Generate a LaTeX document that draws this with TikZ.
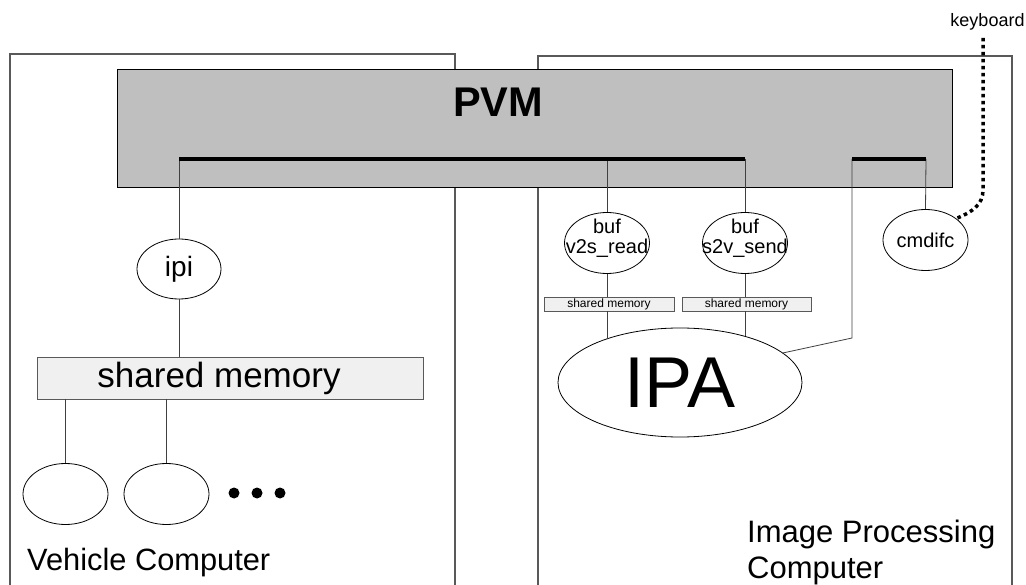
\documentclass[tikz,border=0pt]{standalone}
\usepackage{fontspec}
\setmainfont{Liberation Sans}
\usetikzlibrary{shapes.geometric}
\tikzset{
  comp/.style={draw=black!65, line width=1.1pt},
  link/.style={draw=black!75, line width=0.8pt},
  bus/.style={line width=3.3pt},
  proc/.style={draw, ellipse, line width=0.8pt, inner sep=0pt},
  shmbox/.style={draw=black!65, fill=black!6, line width=0.9pt, inner sep=0pt},
  buftext/.style={font=\fontsize{20}{20.5}\selectfont, align=center, inner sep=0pt, yshift=5pt},
  kbdline/.style={line width=3.5pt, dash pattern=on 3.5pt off 3.5pt},
}
\begin{document}
\begin{tikzpicture}[x=1pt,y=-1pt]
  \useasboundingbox (0,0) rectangle (1026,585);
  % 两台计算机
  \draw[comp] (10,590) -- (10,54) -- (455,54) -- (455,590);
  \draw[comp] (538,590) -- (538,56) -- (1012,56) -- (1012,590);
  % PVM
  \node[draw, fill=black!25, line width=0.9pt, minimum width=835pt, minimum height=118pt, inner sep=0pt] (pvm) at (534.5,128) {};
  \node[font=\bfseries\fontsize{41.5}{41.5}\selectfont, inner sep=0pt] (pvmname) at (498,102) {PVM};
  % 总线
  \coordinate (busA) at (179,159);
  \coordinate (busB) at (745,159);
  \coordinate (busC) at (852,159);
  \coordinate (busD) at (926,159);
  % Vehicle Computer
  \node[proc, minimum width=84pt, minimum height=60pt, font=\fontsize{28}{28}\selectfont] (ipi) at (179,269) {ipi};
  \node[shmbox, minimum width=386pt, minimum height=42pt,
        label={[font=\fontsize{35}{35}\selectfont, inner sep=0pt, xshift=-11pt]center:shared memory}] (shm) at (230,378) {};
  \node[proc, minimum width=85pt, minimum height=61pt] (task1) at (65.5,494) {};
  \node[proc, minimum width=85pt, minimum height=61pt] (task2) at (166.5,494) {};
  \foreach \x in {234,257,280}
    \fill (\x,493) circle (5.5);
  \node[anchor=base west, inner sep=0pt, font=\fontsize{30.8}{30.8}\selectfont] (vc) at (27,570) {Vehicle Computer};
  \draw[link] (busA) -- (ipi.north);
  \draw[link] (ipi.south) -- (ipi.south |- shm.north);
  \draw[link] (task1.north |- shm.south) -- (task1.north);
  \draw[link] (task2.north |- shm.south) -- (task2.north);
  % Image Processing Computer
  \node[proc, minimum width=85pt, minimum height=61pt, label={[buftext]center:buf\\v2s\_read}] (v2s) at (607,243) {};
  \node[proc, minimum width=85pt, minimum height=61pt, label={[buftext]center:buf\\s2v\_send}] (s2v) at (745,243) {};
  \node[proc, minimum width=85pt, minimum height=61pt, font=\fontsize{20}{20}\selectfont] (cmd) at (925.5,240) {cmdifc};
  \node[shmbox, minimum width=130pt, minimum height=14pt, font=\fontsize{12}{12}\selectfont] (shm1) at (609,304) {shared memory};
  \node[shmbox, minimum width=129pt, minimum height=14pt, font=\fontsize{12}{12}\selectfont] (shm2) at (746.5,304) {shared memory};
  \node[proc, minimum width=244pt, minimum height=109pt, font=\fontsize{72}{72}\selectfont] (ipa) at (680,382.5) {IPA};
  \node[anchor=base west, align=left, inner sep=0pt, font=\fontsize{31}{36}\selectfont] (ipc) at (747,578) {Image Processing\\Computer};
  \coordinate (bend) at (852,338);
  \draw[link] (v2s.north |- busA) -- (v2s.north);
  \draw[link] (busB) -- (s2v.north);
  \draw[link] (v2s.south) -- (v2s.south |- shm1.north);
  \draw[link] (s2v.south) -- (s2v.south |- shm2.north);
  \draw[link] (v2s.south |- shm1.south) -- (v2s.south |- ipa.149);
  \draw[link] (s2v.south |- shm2.south) -- (s2v.south |- ipa.35);
  \draw[link] (busD) -- (cmd.north);
  \draw[link] (ipa.16) -- (bend) -- (busC);
  \draw[bus] (busA) -- (busB);
  \draw[bus] (busC) -- (busD);
  % keyboard
  \node[inner sep=0pt, font=\fontsize{18}{18}\selectfont] (kbd) at (987.5,22) {keyboard};
  \coordinate (kbdin) at (983,38);
  \draw[kbdline] (kbdin) -- (983,190) .. controls (983,205) and (972,212) .. (cmd.35);
\end{tikzpicture}
\end{document}
